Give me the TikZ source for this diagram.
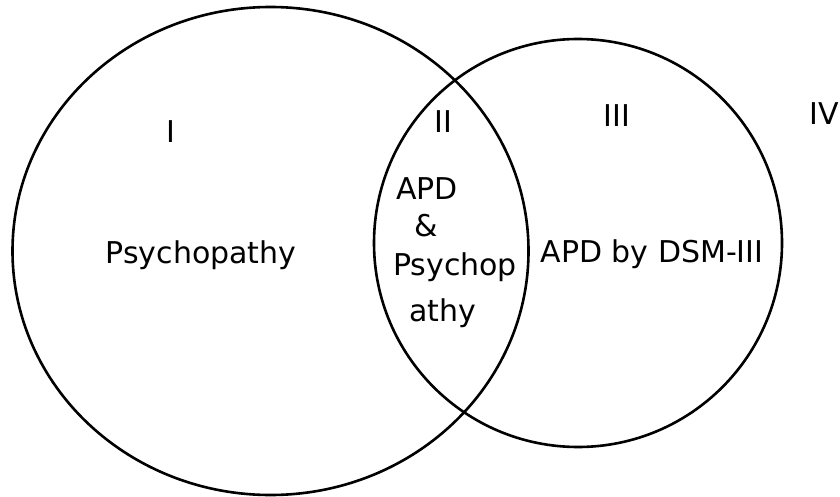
\documentclass[tikz,border=0pt]{standalone}
\usepackage{fontspec}
\setmainfont{DejaVu Sans}
\usepackage{tikz}

\begin{document}
\begin{tikzpicture}[
  x=1pt, y=-1pt,
  setline/.style = {line width=2.6pt, black},
  lbl/.style = {inner sep=0pt, anchor=base, font=\fontsize{30}{36}\selectfont}
]
  \useasboundingbox (0,0) rectangle (840,497);

  % the two sets
  \draw[setline] (270.5,251) ellipse [x radius=258, y radius=244];
  \draw[setline] (578,243)   ellipse [x radius=204, y radius=204];

  % region numbers
  \node[lbl] (rI)   at (171,143) {I};
  \node[lbl] (rII)  at (443,133) {II};
  \node[lbl] (rIII) at (617,127) {III};
  \node[lbl] (rIV)  at (824,125) {IV};

  % region texts
  \node[lbl] (psy)   at (201,263) {Psychopathy};
  \node[lbl] (apd)   at (427,200) {APD};
  \node[lbl] (amp)   at (426,236) {\&};
  \node[lbl] (both1) at (455,275) {Psychop};
  \node[lbl] (both2) at (443,321) {athy};
  \node[lbl] (dsm)   at (652,262) {APD by DSM-III};
\end{tikzpicture}
\end{document}
